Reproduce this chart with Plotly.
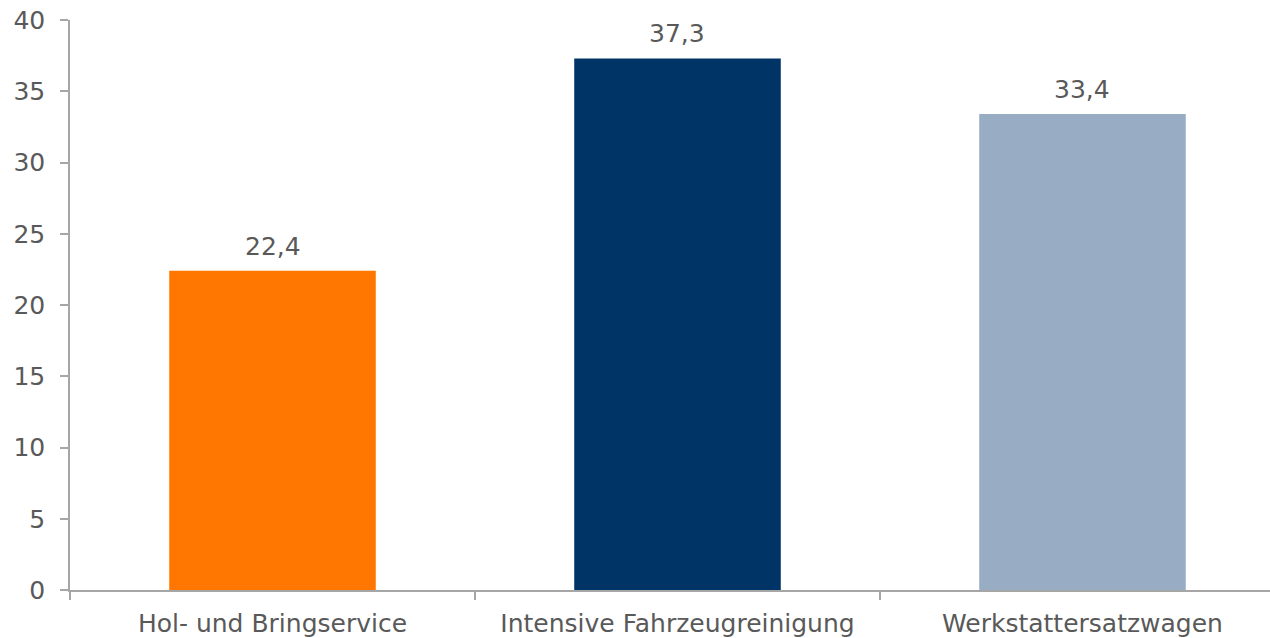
import plotly.graph_objects as go

categories = ["Hol- und Bringservice", "Intensive Fahrzeugreinigung", "Werkstattersatzwagen"]
values = [22.4, 37.3, 33.4]
colors = ["#FF7700", "#003366", "#98ADC4"]
y_ticks = [0, 5, 10, 15, 20, 25, 30, 35, 40]

FONT = "Verdana, DejaVu Sans, sans-serif"
TXT = "#595959"
AX = "#A6A6A6"
FS = 25

fig = go.Figure()
fig.add_trace(go.Bar(
    x=categories, y=values, marker=dict(color=colors, line=dict(width=0)),
    width=0.51, hoverinfo="skip",
))
for c, v in zip(categories, values):
    fig.add_annotation(x=c, y=v, text=f"{v:.1f}".replace(".", ","), showarrow=False,
                       yanchor="bottom", yshift=8, font=dict(family=FONT, size=FS, color=TXT))

fig.update_layout(
    width=1270, height=638,
    margin=dict(l=70, r=0, t=20, b=48),
    paper_bgcolor="white", plot_bgcolor="white",
    separators=",.",
    showlegend=False,
    font=dict(family=FONT, size=FS, color=TXT),
    bargap=0.49,
)
fig.update_xaxes(
    type="category", range=[-0.5, 2.463], tickson="boundaries",
    ticks="outside", ticklen=8, tickcolor=AX, tickwidth=1.5,
    showline=True, linecolor=AX, linewidth=1.5, showgrid=False, zeroline=False,
    ticklabelstandoff=10,
    tickfont=dict(family=FONT, size=FS, color=TXT),
)
fig.update_yaxes(
    range=[0, 40], tickvals=y_ticks, ticks="outside", ticklen=8, tickcolor=AX, tickwidth=1.5,
    showline=True, linecolor=AX, linewidth=1.5, showgrid=False, zeroline=False,
    ticklabelstandoff=10,
    tickfont=dict(family=FONT, size=FS, color=TXT),
)
fig.write_html("out.html", config={"displayModeBar": False},
               post_script="document.body.style.margin='0';")
